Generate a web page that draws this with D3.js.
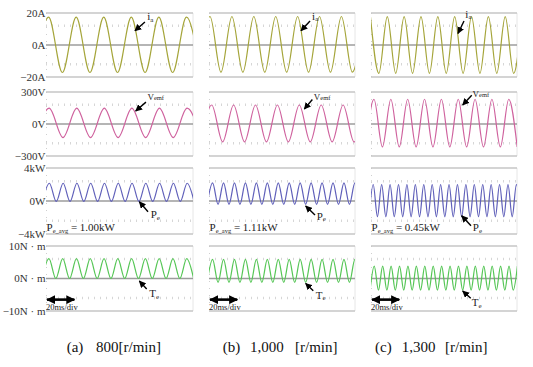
<!DOCTYPE html>
<html><head><meta charset="utf-8">
<script src="https://cdn.jsdelivr.net/npm/d3@7"></script>
<style>
body{margin:0;background:#fff}
svg{display:block}
svg text{font-family:"Liberation Serif","Times New Roman","DejaVu Serif",serif}
</style>
</head><body>
<svg id="chart" width="533" height="367" font-family="Liberation Serif, Times New Roman, DejaVu Serif, serif"></svg>
<script>
// ---------------- data ----------------
const speedsRpm = [800, 1000, 1300];
const panelLetters = ["(a)", "(b)", "(c)"];
const speedTexts = [["800[r/min]"], ["1,000", "[r/min]"], ["1,300", "[r/min]"]];
const peAvgLabels = ["1.00kW", "1.11kW", "0.45kW"];
const polePairs = 4;
const timeWindowMs = [0, 100];
const scaleDivMs = 20;

const iaTickLabels = ["20A", "0A", "−20A"];
const vemfTickLabels = ["300V", "0V", "−300V"];
const peTickLabels = ["4kW", "0W", "−4kW"];
const teTickLabels = ["10N · m", "0N · m", "−10N · m"];

const iaRange = [-20, 20];
const vemfRange = [-300, 300];
const peRange = [-4, 4];
const teRange = [-10, 10];

// time (ms) of the first listed extremum, per panel (a, b, c)
const iaStartMs = [-7.6, -6.8, -0.38];
const vemfStartMs = [-7.2, -5.65, -3.72];
const peStartMs = [-2.4, -1.3, -1.36];
const teStartMs = [-2.7, -1.3, -0.66];

// successive extrema
const iaA = [-17.2,17.4,-17.2,17.4,-17.2,17.4,-17.2,17.4,-17.2,17.4,-17.2,17.4,-17.2];
const iaB = [-17.0,17.8,-17.0,17.8,-17.0,17.8,-17.0,17.8,-17.0,17.8,-17.0,17.8,-17.0,17.8,-17.0,17.8];
const iaC = [17.7,-17.7,17.7,-17.7,17.7,-17.7,17.7,-17.7,17.7,-17.7,17.7,-17.7,17.7,-17.7,17.7,-17.7,17.7,-17.7,17.7];

const vemfA = [-128,148,-128,148,-128,148,-128,148,-128,148,-128,148,-128];
const vemfB = [-168,178,-168,178,-168,178,-168,178,-168,178,-168,178,-168,178,-168,178];
const vemfC = [-215,232,-215,232,-215,232,-215,232,-215,232,-215,232,-215,232,-215,232,-215,232,-215];

const peA = [-0.05,2.15,-0.05,2.15,-0.05,2.15,-0.05,2.15,-0.05,2.15,-0.05,2.15,-0.05,2.15,-0.05,2.15,-0.05,2.15,-0.05,2.15,-0.05,2.15,-0.05];
const peB = [-0.4,2.2,-0.4,2.2,-0.4,2.2,-0.4,2.2,-0.4,2.2,-0.4,2.2,-0.4,2.2,-0.4,2.2,-0.4,2.2,-0.4,2.2,-0.4,2.2,-0.4,2.2,-0.4,2.2,-0.4,2.2,-0.4];
const peC = [-1.9,2.0,-1.9,2.0,-1.9,2.0,-1.9,2.0,-1.9,2.0,-1.9,2.0,-1.9,2.0,-1.9,2.0,-1.9,2.0,-1.9,2.0,-1.9,2.0,-1.9,2.0,-1.9,2.0,-1.9,2.0,-1.9,2.0,-1.9,2.0,-1.9,2.0,-1.9,2.0,-1.9];

const teA = [0,6.1,0,6.1,0,6.1,0,6.1,0,6.1,0,6.1,0,6.1,0,6.1,0,6.1,0,6.1,0,6.1,0];
const teB = [-1.2,5.9,-1.2,5.9,-1.2,5.9,-1.2,5.9,-1.2,5.9,-1.2,5.9,-1.2,5.9,-1.2,5.9,-1.2,5.9,-1.2,5.9,-1.2,5.9,-1.2,5.9,-1.2,5.9,-1.2,5.9,-1.2];
const teC = [-3.6,3.8,-3.6,3.8,-3.6,3.8,-3.6,3.8,-3.6,3.8,-3.6,3.8,-3.6,3.8,-3.6,3.8,-3.6,3.8,-3.6,3.8,-3.6,3.8,-3.6,3.8,-3.6,3.8,-3.6,3.8,-3.6,3.8,-3.6,3.8,-3.6,3.8,-3.6,3.8];

// annotation anchors in data units: [time ms, value] for head, tail, text
const iaNotes = [[[60.5,8.9],[67.3,14.4],[68.9,15.6]], [[63,8.9],[69.2,15],[70.6,15.8]], [[59.6,7.2],[63.7,15],[64.6,16.9]]];
const vemfNotes = [[[61,122],[68,205],[69,225]], [[65.3,140],[70.8,230],[71.8,225]], [[62.8,178],[69,270],[69.6,253]]];
const peNotes = [[[63.5,-0.1],[69.4,-1.3],[71.2,-2.1]], [[66.2,-0.6],[72.6,-1.7],[73.8,-2.25]], [[62.1,-1.8],[68.5,-3.0],[69.7,-3.65]]];
const teNotes = [[[63.5,-0.8],[68.5,-3.2],[70.2,-5.8]], [[66.2,-1.5],[71.4,-3.8],[73.1,-6.2]], [[62.8,-3.85],[68.3,-6.1],[69,-8.6]]];

// ---------------- layout ----------------
const FONT = "Liberation Serif, Times New Roman, DejaVu Serif, serif";
const panelX = [[46, 193], [209, 355], [371, 517]];
const rows = [
  {name:"ia", domain: iaRange, px:[77, 13], ticks: iaTickLabels, color:"#a5a53a",
   series:[iaA, iaB, iaC], start: iaStartMs, mult: 1, notes: iaNotes},
  {name:"vemf", domain: vemfRange, px:[156, 92], ticks: vemfTickLabels, color:"#cf629e",
   series:[vemfA, vemfB, vemfC], start: vemfStartMs, mult: 1, notes: vemfNotes},
  {name:"pe", domain: peRange, px:[234, 168], ticks: peTickLabels, color:"#6060ba",
   series:[peA, peB, peC], start: peStartMs, mult: 2, notes: peNotes},
  {name:"te", domain: teRange, px:[311, 246], ticks: teTickLabels, color:"#55c655",
   series:[teA, teB, teC], start: teStartMs, mult: 2, notes: teNotes}
];

const svg = d3.select("#chart");
const defs = svg.append("defs");
defs.append("marker").attr("id","ah").attr("viewBox","0 0 10 10")
  .attr("refX",9).attr("refY",5).attr("markerWidth",7).attr("markerHeight",7)
  .attr("markerUnits","userSpaceOnUse").attr("orient","auto-start-reverse")
  .append("path").attr("d","M0,0 L10,5 L0,10 z").attr("fill","#000");
defs.append("marker").attr("id","ah2").attr("viewBox","0 0 10 10")
  .attr("refX",9).attr("refY",5).attr("markerWidth",9).attr("markerHeight",9)
  .attr("markerUnits","userSpaceOnUse").attr("orient","auto-start-reverse")
  .append("path").attr("d","M0,0 L10,5 L0,10 z").attr("fill","#000");

speedsRpm.forEach((rpm, p) => {
  const x = d3.scaleLinear().domain(timeWindowMs).range(panelX[p]);
  const periodMs = 60000 / (rpm * polePairs);
  rows.forEach((row, r) => {
    const y = d3.scaleLinear().domain(row.domain).range(row.px);
    const g = svg.append("g").attr("font-family", FONT);
    const clipId = `clip-${p}-${r}`;
    defs.append("clipPath").attr("id", clipId).append("rect")
      .attr("x", x(timeWindowMs[0])).attr("y", y(row.domain[1]) - 2)
      .attr("width", x(timeWindowMs[1]) - x(timeWindowMs[0]))
      .attr("height", y(row.domain[0]) - y(row.domain[1]) + 4);

    // dotted grid
    [0.6, -0.6].forEach(f => {
      g.append("line").attr("x1", x(0)).attr("x2", x(100))
        .attr("y1", y(row.domain[1]*f)).attr("y2", y(row.domain[1]*f))
        .attr("stroke","#d6d6d6").attr("stroke-width",2.5).attr("stroke-dasharray","1,5");
    });
    g.append("line").attr("x1", x(0)+0.5).attr("x2", x(0)+0.5)
      .attr("y1", y(row.domain[1])).attr("y2", y(row.domain[0]))
      .attr("stroke","#cfcfcf").attr("stroke-width",1).attr("stroke-dasharray","1,6");
    g.append("line").attr("x1", x(100)).attr("x2", x(100))
      .attr("y1", y(row.domain[1])).attr("y2", y(row.domain[0]))
      .attr("stroke","#e6e6e6").attr("stroke-width",1);
    // frame lines
    [row.domain[1], row.domain[0]].forEach(v => {
      g.append("line").attr("x1", x(0)).attr("x2", x(100))
        .attr("y1", y(v)).attr("y2", y(v))
        .attr("stroke","#c6c6c6").attr("stroke-width",1.6);
    });
    // zero line
    g.append("line").attr("x1", x(0)).attr("x2", x(100))
      .attr("y1", y(0)).attr("y2", y(0))
      .attr("stroke","#9c9c9c").attr("stroke-width",1.3);

    // waveform
    const step = periodMs / (2 * row.mult);
    const pts = row.series[p].map((v, i) => [row.start[p] + i * step, v]);
    const line = d3.line().x(d => x(d[0])).y(d => y(d[1])).curve(d3.curveMonotoneX);
    g.append("path").attr("d", line(pts)).attr("fill","none")
      .attr("stroke", row.color).attr("stroke-width",1.2)
      .attr("clip-path", `url(#${clipId})`);

    // tick labels on first panel
    if (p === 0) {
      [row.domain[1], 0, row.domain[0]].forEach((v, i) => {
        g.append("text").attr("x", x(0) - 0.5).attr("y", y(v))
          .attr("dy","0.35em").attr("text-anchor","end")
          .attr("font-size", 11).attr("fill","#333").text(row.ticks[i]);
      });
    }

    // annotation arrow + label
    const [head, tail, tpos] = row.notes[p];
    g.append("line").attr("x1", x(tail[0])).attr("y1", y(tail[1]))
      .attr("x2", x(head[0])).attr("y2", y(head[1]))
      .attr("stroke","#000").attr("stroke-width",1.4).attr("marker-end","url(#ah)");
    const t = g.append("text").attr("x", x(tpos[0])).attr("y", y(tpos[1])).attr("fill","#222");
    if (row.name === "ia") {
      t.append("tspan").attr("font-size",11).text("i");
      t.append("tspan").attr("font-size",7).attr("dy",1.5).text("a");
    } else if (row.name === "vemf") {
      t.append("tspan").attr("font-size",9).text("V");
      t.append("tspan").attr("font-size",6.5).text("emf");
    } else if (row.name === "pe") {
      t.append("tspan").attr("font-size",11).text("P");
      t.append("tspan").attr("font-size",7).attr("dy",1.5).text("e");
    } else {
      t.append("tspan").attr("font-size",11).text("T");
      t.append("tspan").attr("font-size",7).attr("dy",1.5).text("e");
    }

    if (row.name === "pe") {
      const avg = g.append("text").attr("x", x(0) + 0.5).attr("y", y(-3.68)).attr("fill","#222");
      avg.append("tspan").attr("font-size",11).text("P");
      avg.append("tspan").attr("font-size",6.5).attr("dy",1.5).text("e_avg");
      avg.append("tspan").attr("font-size",11).attr("dy",-1.5).text(" = " + peAvgLabels[p]);
    }
    if (row.name === "te") {
      g.append("line").attr("x1", x(0) + 1).attr("x2", x(scaleDivMs) - 1)
        .attr("y1", y(-6.5)).attr("y2", y(-6.5))
        .attr("stroke","#000").attr("stroke-width",2.6)
        .attr("marker-start","url(#ah2)").attr("marker-end","url(#ah2)");
      g.append("text").attr("x", x(0)).attr("y", y(-9.6))
        .attr("font-size",8.5).attr("fill","#222").text(scaleDivMs + "ms/div");
    }
  });
});

// captions
const capX = [[66.7, 96], [222.7, 250, 295], [375, 401.7, 445]];
speedsRpm.forEach((rpm, p) => {
  svg.append("text").attr("x", capX[p][0]).attr("y", 352).attr("font-size",15)
    .attr("font-family", FONT).attr("fill","#111").text(panelLetters[p]);
  speedTexts[p].forEach((s, i) => {
    svg.append("text").attr("x", capX[p][i+1]).attr("y", 352).attr("font-size",15)
      .attr("font-family", FONT).attr("fill","#111").text(s);
  });
});
</script>
</body></html>
